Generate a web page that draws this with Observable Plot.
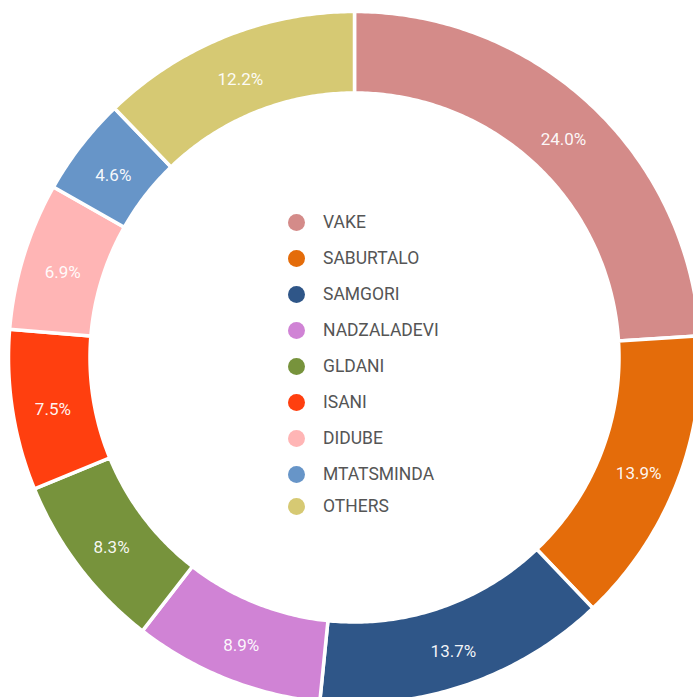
<!DOCTYPE html>
<html>
<head>
<meta charset="utf-8">
<script src="https://cdn.jsdelivr.net/npm/d3@7"></script>
<script src="https://cdn.jsdelivr.net/npm/@observablehq/plot@0.6"></script>
<style>
  html, body { margin: 0; padding: 0; background: #fff; overflow: hidden; }
  #wrap { position: relative; width: 693px; height: 697px; }
  #legend { position: absolute; left: 288px; top: 204px; font-family: Roboto, "DejaVu Sans", sans-serif; font-size: 17.5px; color: #555; }
  .row { display: flex; align-items: center; height: 36px; }
  .row:last-child { margin-top: -4px; }
  .sw { width: 17px; height: 17px; border-radius: 50%; margin-right: 18px; flex: none; }
</style>
</head>
<body>
<div id="wrap"><div id="legend"></div></div>
<script>
const districts = ["VAKE", "SABURTALO", "SAMGORI", "NADZALADEVI", "GLDANI", "ISANI", "DIDUBE", "MTATSMINDA", "OTHERS"];
const shares = [24.0, 13.9, 13.7, 8.9, 8.3, 7.5, 6.9, 4.6, 12.2];
const colors = ["#d48b89", "#e46c0a", "#2f5688", "#d083d5", "#77933c", "#ff3f0f", "#ffb5b5", "#6795c8", "#d6c973"];

const R_OUT = 346, R_IN = 264.5;
const total = d3.sum(shares);
const toXY = (a, r) => ({x: r * Math.sin(a), y: r * Math.cos(a)});

let cum = 0;
const slices = [], labels = [];
districts.forEach((name, i) => {
  const a0 = cum / total * 2 * Math.PI;
  cum += shares[i];
  const a1 = cum / total * 2 * Math.PI;
  const n = Math.max(4, Math.ceil((a1 - a0) / 0.01));
  for (let k = 0; k <= n; k++) slices.push({name, ...toXY(a0 + (a1 - a0) * k / n, R_OUT)});
  for (let k = n; k >= 0; k--) slices.push({name, ...toXY(a0 + (a1 - a0) * k / n, R_IN)});
  labels.push({name, text: shares[i].toFixed(1) + "%", ...toXY((a0 + a1) / 2, (R_OUT + R_IN) / 2)});
});

const chart = Plot.plot({
  width: 693,
  height: 697,
  margin: 0,
  style: {background: "transparent", fontFamily: "Roboto, 'DejaVu Sans', sans-serif"},
  x: {domain: [-354, 339], axis: null},
  y: {domain: [-340, 357], axis: null},
  color: {domain: districts, range: colors},
  marks: [
    Plot.line(slices, {x: "x", y: "y", z: "name", fill: "name", stroke: "white", strokeWidth: 3.5, curve: "linear-closed"}),
    Plot.text(labels, {x: "x", y: "y", text: "text", fill: "white", fillOpacity: 0.95, fontSize: 17, dy: 5})
  ]
});
document.getElementById("wrap").prepend(chart);

const legend = document.getElementById("legend");
districts.forEach((name, i) => {
  const row = document.createElement("div");
  row.className = "row";
  row.innerHTML = `<span class="sw" style="background:${colors[i]}"></span><span>${name}</span>`;
  legend.appendChild(row);
});
</script>
</body>
</html>
